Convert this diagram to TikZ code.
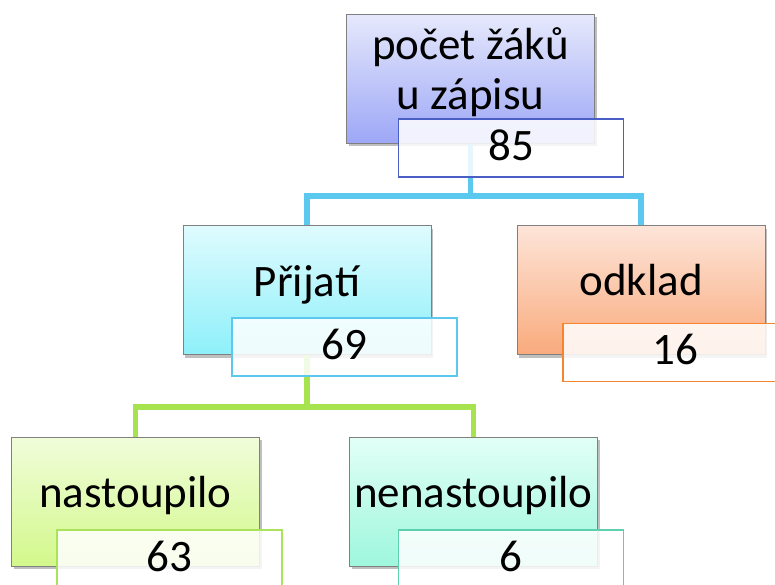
\documentclass[tikz,border=0pt]{standalone}
\usepackage{fontspec}
\setmainfont{Carlito}
\usetikzlibrary{shadows}
\definecolor{boxgray}{HTML}{808080}
\definecolor{topA}{HTML}{E6E9FC}
\definecolor{topB}{HTML}{9DA7F6}
\definecolor{prijA}{HTML}{DFFBFE}
\definecolor{prijB}{HTML}{8EF0FA}
\definecolor{odkA}{HTML}{FDE5D9}
\definecolor{odkB}{HTML}{F9AA7C}
\definecolor{nasA}{HTML}{F0FDDA}
\definecolor{nasB}{HTML}{D3F88C}
\definecolor{nenA}{HTML}{E2FFF6}
\definecolor{nenB}{HTML}{9EF7DC}
\definecolor{vTop}{HTML}{4A5FC6}
\definecolor{vPrij}{HTML}{5BC8F0}
\definecolor{vOdk}{HTML}{F5862F}
\definecolor{vNas}{HTML}{A8E35A}
\definecolor{vNen}{HTML}{5ED0AE}
\definecolor{conblue}{HTML}{5BC8F0}
\definecolor{congreen}{HTML}{A6E34E}
\begin{document}
\begin{tikzpicture}[x=1pt,y=-1pt,
  mainbox/.style={draw=boxgray, line width=1pt, minimum width=248pt, minimum height=129pt, inner sep=0pt,
    drop shadow={shadow xshift=2pt, shadow yshift=-3pt, opacity=0.25, fill=black}},
  valbox/.style={draw, line width=1.5pt, fill=white, fill opacity=0.85, text opacity=1,
    minimum width=225pt, minimum height=58pt, inner sep=0pt, text depth=6pt,
    font=\fontsize{45}{50}\selectfont},
  lbl/.style={font=\fontsize{45}{50}\selectfont, anchor=base, inner sep=0pt},
  bluecon/.style={draw=conblue, line width=5.5pt},
  greencon/.style={draw=congreen, line width=5.5pt}
]
\useasboundingbox (0,0) rectangle (775,584);
\clip (0,0) rectangle (775,584);

% main boxes
\node[mainbox, top color=topA, bottom color=topB] (top) at (470.5,78.5) {};
\node[mainbox, top color=prijA, bottom color=prijB] (prij) at (307,290) {};
\node[mainbox, top color=odkA, bottom color=odkB] (odk) at (641,290) {};
\node[mainbox, top color=nasA, bottom color=nasB] (nas) at (135.5,501.5) {};
\node[mainbox, top color=nenA, bottom color=nenB] (nen) at (473.5,501.5) {};

% connectors
\coordinate (bus1) at (470.5,196);
\coordinate (bus2) at (307,407);
\draw[bluecon] (top.south) -- (bus1);
\draw[bluecon] (prij.north) |- (bus1) -| (odk.north);
\draw[greencon] (prij.south) -- (bus2);
\draw[greencon] (nas.north) |- (bus2) -| (nen.north);

% labels
\node[font=\fontsize{45}{50}\selectfont, align=center, inner sep=0pt] (toptxt) at (470.5,72) {počet žáků\\u zápisu};
\node[lbl] (prijtxt) at (307,296) {Přijatí};
\node[lbl] (odktxt) at (641,295) {odklad};
\node[lbl] (nastxt) at (135.5,507) {nastoupilo};
\node[lbl] (nentxt) at (473.5,507) {nenastoupilo};

% value boxes
\node[valbox, draw=vTop] (v85) at (511,148) {85};
\node[valbox, draw=vPrij] (v69) at (344.5,347) {69};
\node[valbox, draw=vOdk] (v16) at (675.5,352.5) {16};
\node[valbox, draw=vNas] (v63) at (169.5,559) {63};
\node[valbox, draw=vNen] (v6) at (511,559) {6};
\end{tikzpicture}
\end{document}
